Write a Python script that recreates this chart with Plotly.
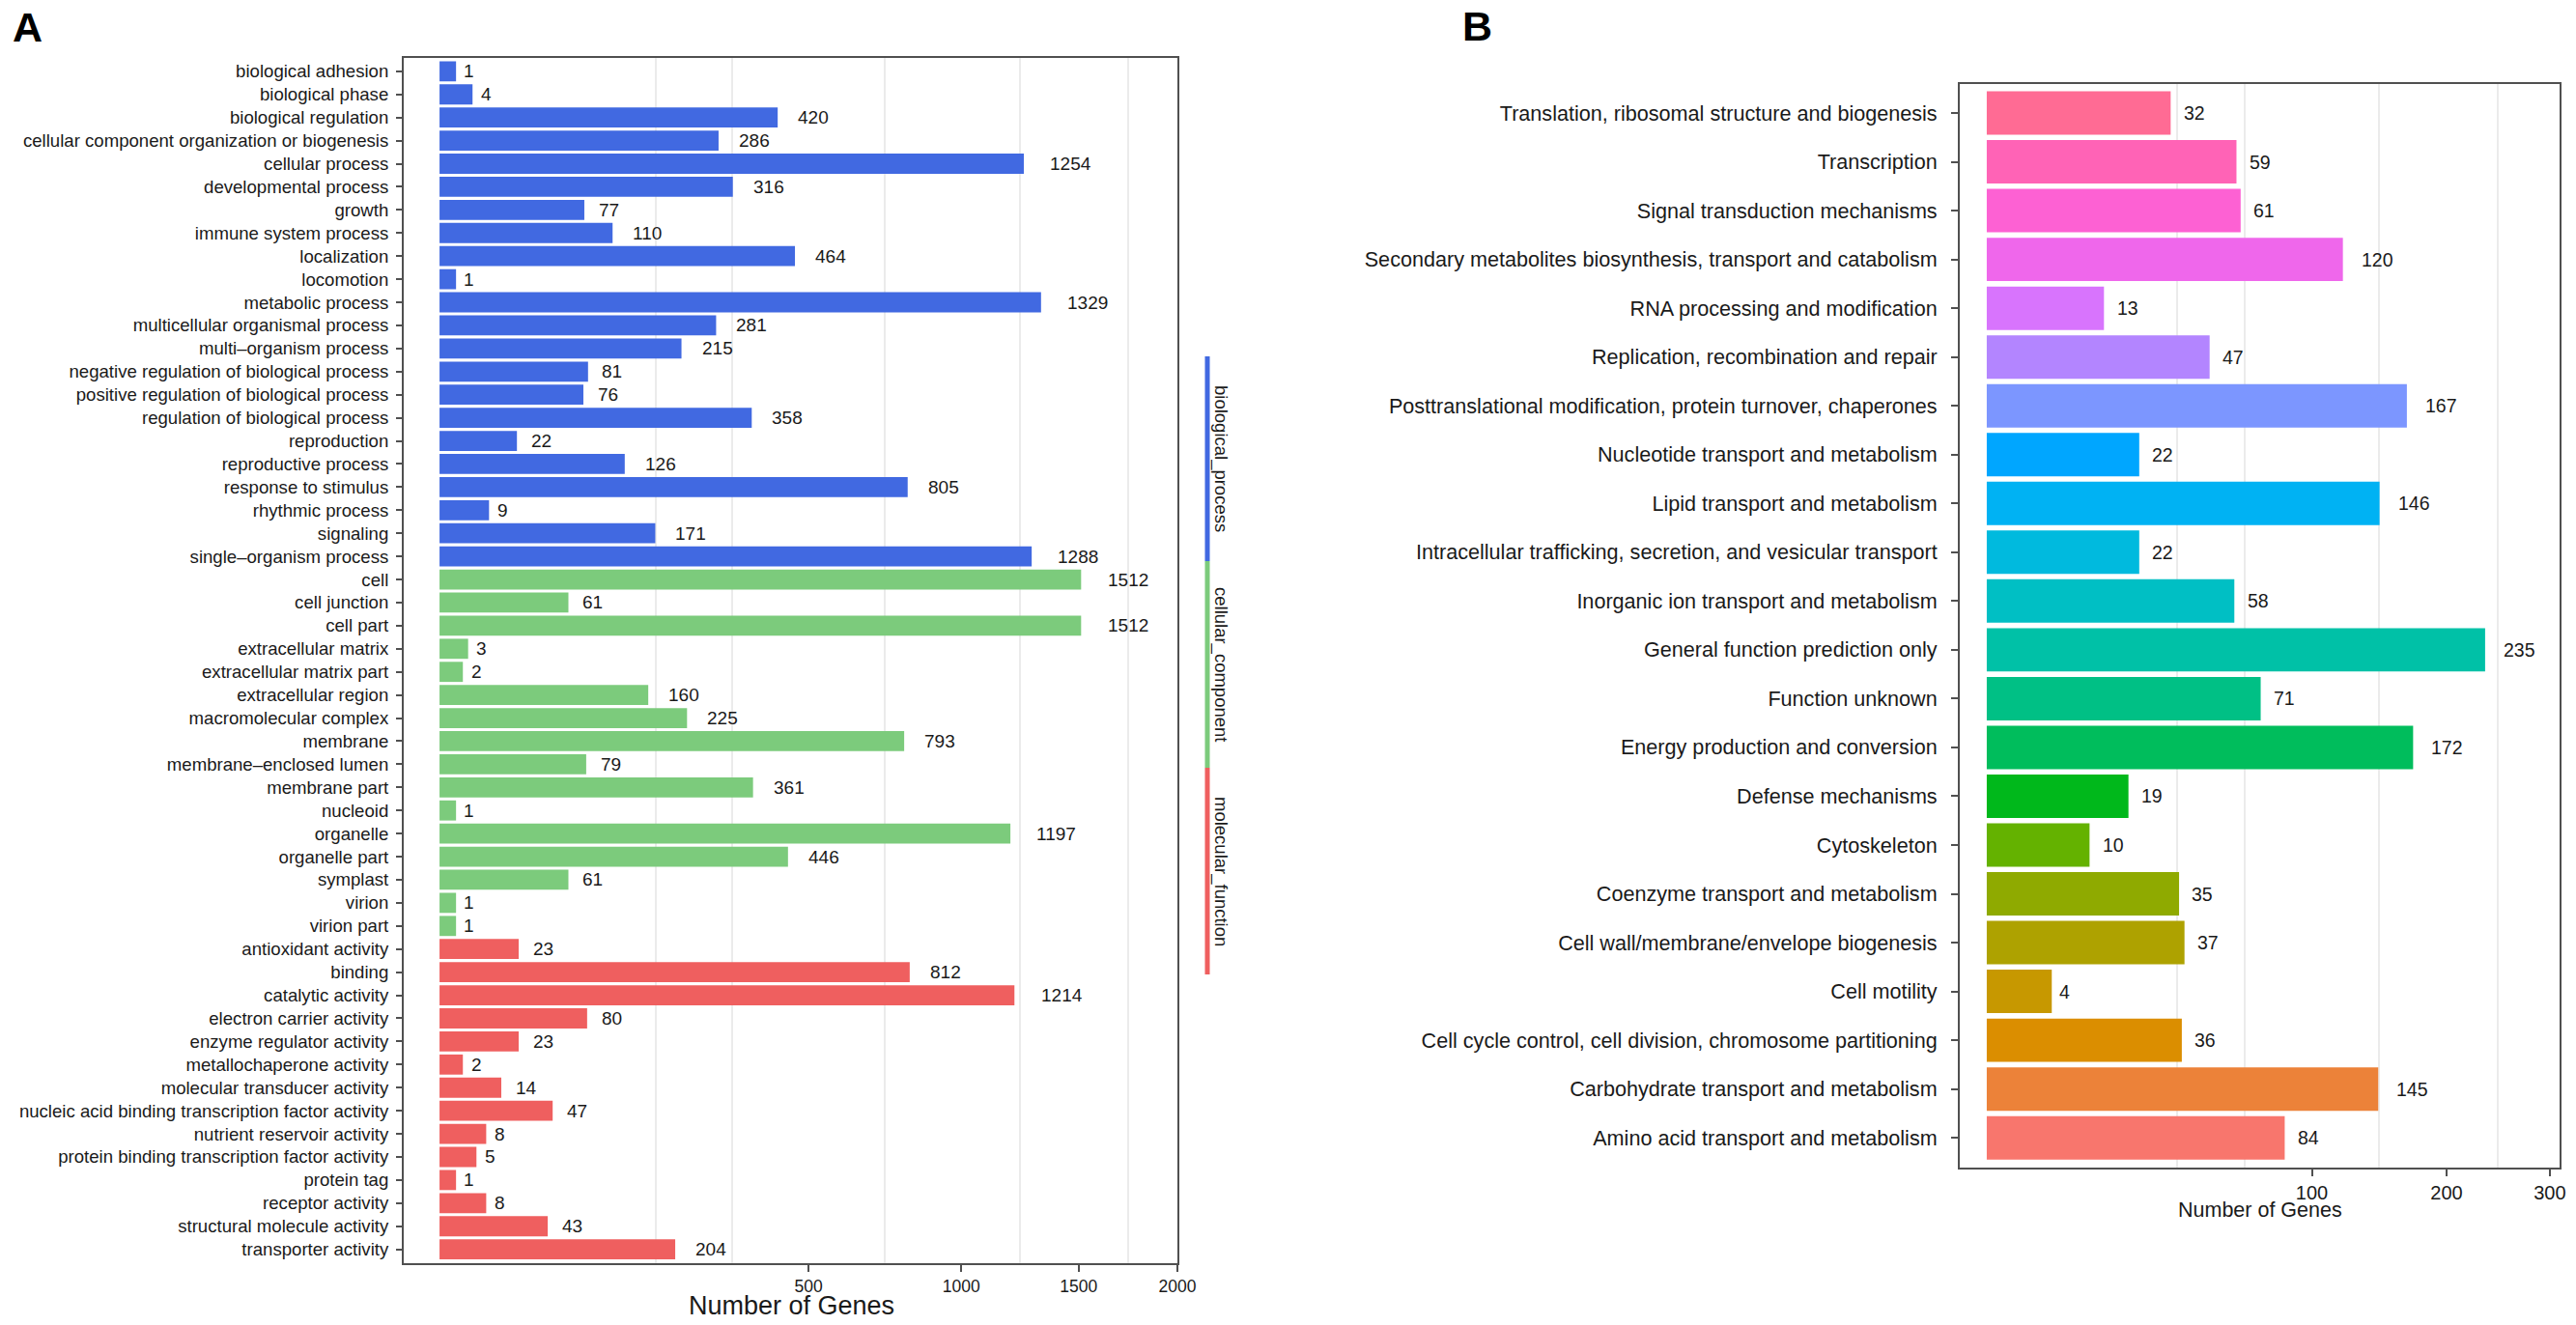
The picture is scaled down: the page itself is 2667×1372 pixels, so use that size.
import math
import plotly.graph_objects as go

# ---------------- data: panel A (GO) ----------------
bp_terms = ["biological adhesion", "biological phase", "biological regulation",
            "cellular component organization or biogenesis", "cellular process",
            "developmental process", "growth", "immune system process", "localization",
            "locomotion", "metabolic process", "multicellular organismal process",
            "multi\u2013organism process", "negative regulation of biological process",
            "positive regulation of biological process", "regulation of biological process",
            "reproduction", "reproductive process", "response to stimulus",
            "rhythmic process", "signaling", "single\u2013organism process"]
bp_counts = [1, 4, 420, 286, 1254, 316, 77, 110, 464, 1, 1329, 281, 215, 81, 76, 358,
             22, 126, 805, 9, 171, 1288]

cc_terms = ["cell", "cell junction", "cell part", "extracellular matrix",
            "extracellular matrix part", "extracellular region", "macromolecular complex",
            "membrane", "membrane\u2013enclosed lumen", "membrane part", "nucleoid",
            "organelle", "organelle part", "symplast", "virion", "virion part"]
cc_counts = [1512, 61, 1512, 3, 2, 160, 225, 793, 79, 361, 1, 1197, 446, 61, 1, 1]

mf_terms = ["antioxidant activity", "binding", "catalytic activity",
            "electron carrier activity", "enzyme regulator activity",
            "metallochaperone activity", "molecular transducer activity",
            "nucleic acid binding transcription factor activity",
            "nutrient reservoir activity", "protein binding transcription factor activity",
            "protein tag", "receptor activity", "structural molecule activity",
            "transporter activity"]
mf_counts = [23, 812, 1214, 80, 23, 2, 14, 47, 8, 5, 1, 8, 43, 204]

group_names = ["biological_process", "cellular_component", "molecular_function"]
go_ticks = [500, 1000, 1500, 2000]

# ---------------- data: panel B (COG), listed top to bottom ----------------
cog_terms = ["Translation, ribosomal structure and biogenesis", "Transcription",
             "Signal transduction mechanisms",
             "Secondary metabolites biosynthesis, transport and catabolism",
             "RNA processing and modification", "Replication, recombination and repair",
             "Posttranslational modification, protein turnover, chaperones",
             "Nucleotide transport and metabolism", "Lipid transport and metabolism",
             "Intracellular trafficking, secretion, and vesicular transport",
             "Inorganic ion transport and metabolism", "General function prediction only",
             "Function unknown", "Energy production and conversion", "Defense mechanisms",
             "Cytoskeleton", "Coenzyme transport and metabolism",
             "Cell wall/membrane/envelope biogenesis", "Cell motility",
             "Cell cycle control, cell division, chromosome partitioning",
             "Carbohydrate transport and metabolism", "Amino acid transport and metabolism"]
cog_counts = [32, 59, 61, 120, 13, 47, 167, 22, 146, 22, 58, 235, 71, 172, 19, 10, 35,
              37, 4, 36, 145, 84]
cog_ticks = [100, 200, 300]

# ---------------- styles ----------------
FONT = "Liberation Sans, Arial, Helvetica, sans-serif"
TXT = "#1a1a1a"
FRAME = "#505050"
GRID = "#ebebeb"
W, H = 2667, 1372
group_colors = ["#4169E1", "#7CCB7C", "#EF5F5F"]


def hcl_hex(h, c=100.0, l=65.0):
    """ggplot2 hue_pal colour (polar CIE-Luv -> sRGB)."""
    hr = math.radians(h)
    u, v = c * math.cos(hr), c * math.sin(hr)
    Xn, Yn, Zn = 95.047, 100.0, 108.883
    un = 4 * Xn / (Xn + 15 * Yn + 3 * Zn)
    vn = 9 * Yn / (Xn + 15 * Yn + 3 * Zn)
    Y = Yn * (((l + 16) / 116) ** 3 if l > 8 else l / 903.3)
    up = u / (13 * l) + un
    vp = v / (13 * l) + vn
    X = Y * 9 * up / (4 * vp)
    Z = Y * (12 - 3 * up - 20 * vp) / (4 * vp)
    X, Y, Z = X / 100, Y / 100, Z / 100
    rgb = [3.240479 * X - 1.537150 * Y - 0.498535 * Z,
           -0.969256 * X + 1.875992 * Y + 0.041556 * Z,
           0.055648 * X - 0.204043 * Y + 1.057311 * Z]
    out = []
    for ch in rgb:
        ch = 12.92 * ch if ch <= 0.0031308 else 1.055 * ch ** (1 / 2.4) - 0.055
        out.append(max(0, min(255, round(ch * 255))))
    return "#%02X%02X%02X" % tuple(out)


n_cog = len(cog_terms)
hues = [15 + 360 * i / n_cog for i in range(n_cog)]
# factor levels are alphabetical, i.e. bottom-to-top in this list
cog_colors = [hcl_hex(hues[n_cog - 1 - i]) for i in range(n_cog)]


def minor_grid(ticks):
    s = [math.sqrt(t) for t in ticks]
    b = [s[0] - (s[1] - s[0])] + s
    mids = [(b[i] + b[i + 1]) / 2 for i in range(len(b) - 1)]
    return [b[0]] + mids


fig = go.Figure()

# ---------------- panel A bars ----------------
go_terms_all = bp_terms + cc_terms + mf_terms
for terms, counts, col, name in zip([bp_terms, cc_terms, mf_terms],
                                    [bp_counts, cc_counts, mf_counts],
                                    group_colors, group_names):
    fig.add_trace(go.Bar(
        y=terms, x=[math.sqrt(v) for v in counts], orientation="h",
        marker=dict(color=col, line=dict(width=0)), width=0.87,
        name=name, showlegend=False, xaxis="x", yaxis="y",
        customdata=counts, hovertemplate="%{y}: %{customdata}<extra></extra>"))

FS_NUM_A = 19
annotations = []
for terms, counts in zip([bp_terms, cc_terms, mf_terms], [bp_counts, cc_counts, mf_counts]):
    for t, v in zip(terms, counts):
        s = str(v)
        annotations.append(dict(
            x=math.sqrt(v), y=t, xref="x", yref="y", text=s, showarrow=False,
            xanchor="left", yanchor="middle",
            xshift=0.6 * len(s) * 0.556 * FS_NUM_A,
            font=dict(family=FONT, size=FS_NUM_A, color=TXT)))

# ---------------- panel B bars ----------------
fig.add_trace(go.Bar(
    y=cog_terms, x=[math.sqrt(v) for v in cog_counts], orientation="h",
    marker=dict(color=cog_colors, line=dict(width=0)), width=0.89,
    showlegend=False, xaxis="x2", yaxis="y2",
    customdata=cog_counts, hovertemplate="%{y}: %{customdata}<extra></extra>"))

FS_NUM_B = 19.5
for t, v in zip(cog_terms, cog_counts):
    s = str(v)
    annotations.append(dict(
        x=math.sqrt(v), y=t, xref="x2", yref="y2", text=s, showarrow=False,
        xanchor="left", yanchor="middle",
        xshift=0.52 * len(s) * 0.556 * FS_NUM_B,
        font=dict(family=FONT, size=FS_NUM_B, color=TXT)))

# ---------------- axis titles and panel letters ----------------
annotations += [
    dict(x=819 / W, y=1 - 1352 / H, xref="paper", yref="paper", text="Number of Genes",
         showarrow=False, xanchor="center", yanchor="middle",
         font=dict(family=FONT, size=27, color=TXT)),
    dict(x=2340 / W, y=1 - 1253 / H, xref="paper", yref="paper", text="Number of Genes",
         showarrow=False, xanchor="center", yanchor="middle",
         font=dict(family=FONT, size=21.5, color=TXT)),
    dict(x=11 / W, y=1 - 28 / H, xref="paper", yref="paper", text="<b>A</b>",
         showarrow=False, xanchor="left", yanchor="middle",
         font=dict(family=FONT, size=43, color="#000000")),
    dict(x=1512 / W, y=1 - 27 / H, xref="paper", yref="paper", text="<b>B</b>",
         showarrow=False, xanchor="left", yanchor="middle",
         font=dict(family=FONT, size=43, color="#000000")),
]

# ---------------- GO category strip (right of panel A) ----------------
strip_edges = [369, 581, 795, 1009]
shapes = []
for i, (name, col) in enumerate(zip(group_names, group_colors)):
    y0 = 1 - strip_edges[i] / H
    y1 = 1 - strip_edges[i + 1] / H
    shapes.append(dict(type="line", xref="paper", yref="paper",
                       x0=1250 / W, x1=1250 / W, y0=y0, y1=y1,
                       line=dict(color=col, width=5)))
    annotations.append(dict(x=1264 / W, y=(y0 + y1) / 2, xref="paper", yref="paper",
                            text=name, textangle=90, showarrow=False,
                            xanchor="center", yanchor="middle",
                            font=dict(family=FONT, size=18.5, color=TXT)))

n_go = len(go_terms_all)
fig.update_layout(
    width=W, height=H, margin=dict(l=0, r=0, t=0, b=0),
    paper_bgcolor="white", plot_bgcolor="white",
    barmode="overlay", showlegend=False,
    annotations=annotations, shapes=shapes,
    xaxis=dict(domain=[418 / W, 1219 / W], range=[-2.17, 44.72],
               tickmode="array", tickvals=[math.sqrt(t) for t in go_ticks],
               ticktext=[str(t) for t in go_ticks],
               tickfont=dict(family=FONT, size=17.5, color=TXT),
               ticks="outside", ticklen=7, tickwidth=1.5, tickcolor=FRAME,
               showgrid=False, zeroline=False,
               minor=dict(tickmode="array", tickvals=minor_grid(go_ticks),
                          showgrid=True, gridcolor=GRID, gridwidth=1.5, ticks=""),
               showline=True, mirror=True, linecolor=FRAME, linewidth=2,
               anchor="y", automargin=False, fixedrange=True),
    yaxis=dict(domain=[1 - 1308 / H, 1 - 59.5 / H],
               type="category", categoryorder="array", categoryarray=go_terms_all,
               range=[n_go - 0.4, -0.6],
               tickfont=dict(family=FONT, size=18.6, color=TXT),
               ticks="outside", ticklen=6, tickwidth=1.5, tickcolor=FRAME,
               ticklabelstandoff=4,
               showgrid=False, zeroline=False,
               showline=True, mirror=True, linecolor=FRAME, linewidth=2,
               anchor="x", automargin=False, fixedrange=True),
    xaxis2=dict(domain=[2029 / W, 2650 / W], range=[-0.83, 17.62],
                tickmode="array", tickvals=[math.sqrt(t) for t in cog_ticks],
                ticktext=[str(t) for t in cog_ticks],
                tickfont=dict(family=FONT, size=20, color=TXT),
                ticks="outside", ticklen=7, tickwidth=1.5, tickcolor=FRAME,
                showgrid=False, zeroline=False,
                minor=dict(tickmode="array", tickvals=minor_grid(cog_ticks),
                           showgrid=True, gridcolor=GRID, gridwidth=1.5, ticks=""),
                showline=True, mirror=True, linecolor=FRAME, linewidth=2,
                anchor="y2", automargin=False, fixedrange=True),
    yaxis2=dict(domain=[1 - 1208.5 / H, 1 - 86.7 / H],
                type="category", categoryorder="array", categoryarray=cog_terms,
                range=[n_cog - 0.4, -0.6],
                tickfont=dict(family=FONT, size=21.6, color=TXT),
                ticks="outside", ticklen=7, tickwidth=1.5, tickcolor=FRAME,
                ticklabelstandoff=10,
                showgrid=False, zeroline=False,
                showline=True, mirror=True, linecolor=FRAME, linewidth=2,
                anchor="x2", automargin=False, fixedrange=True),
)

fig.write_html("out.html", config={"displayModeBar": False},
               post_script="document.body.style.margin='0px';"
                           "document.body.style.overflow='hidden';")
